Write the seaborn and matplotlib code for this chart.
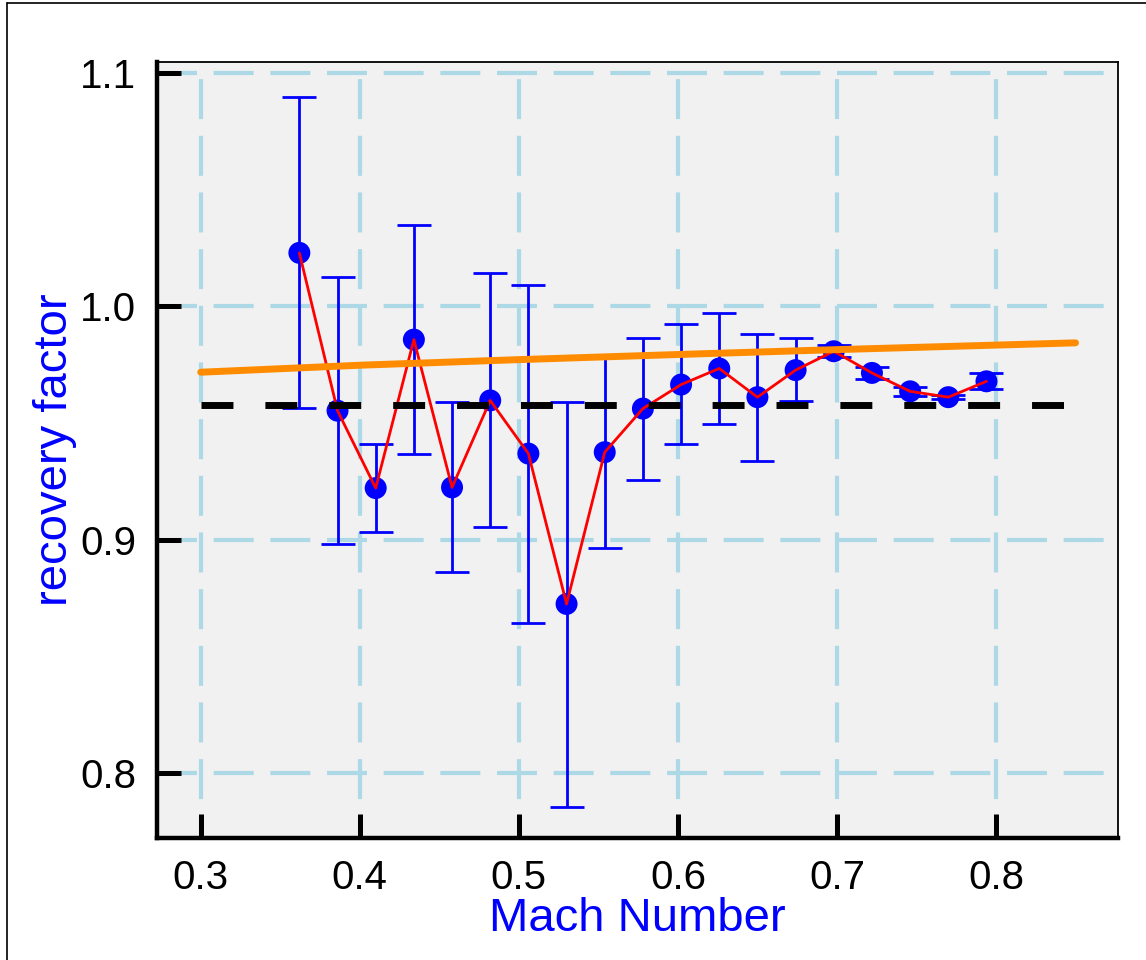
import matplotlib
matplotlib.use("Agg")
import matplotlib.pyplot as plt
import seaborn as sns
import pandas as pd
from matplotlib.lines import Line2D

# ---- data ----
mach = [0.362, 0.386, 0.410, 0.434, 0.458, 0.482, 0.506, 0.530, 0.554, 0.578,
        0.602, 0.626, 0.650, 0.674, 0.698, 0.722, 0.746, 0.770, 0.794]
recovery = [1.0230, 0.9553, 0.9221, 0.9858, 0.9224, 0.9597, 0.9369, 0.8724, 0.9375, 0.9562,
            0.9665, 0.9734, 0.9611, 0.9727, 0.9808, 0.9715, 0.9636, 0.9611, 0.9679]
upper = [1.0898, 1.0126, 0.9412, 1.0350, 0.9591, 1.0142, 1.0094, 0.9592, 0.9786, 0.9863,
         0.9923, 0.9971, 0.9881, 0.9865, 0.9834, 0.9742, 0.9654, 0.9622, 0.9714]
lower = [0.9565, 0.8981, 0.9034, 0.9367, 0.8863, 0.9053, 0.8642, 0.7854, 0.8964, 0.9256,
         0.9408, 0.9498, 0.9339, 0.9594, 0.9782, 0.9689, 0.9618, 0.9602, 0.9646]

theory_mach = [0.30, 0.40, 0.50, 0.60, 0.70, 0.85]
theory_r = [0.9718, 0.9748, 0.9772, 0.9794, 0.9815, 0.9844]

mean_mach = [0.30, 0.85]
mean_r = [0.9577, 0.9577]

xticks = [0.3, 0.4, 0.5, 0.6, 0.7, 0.8]
xticklabels = ["0.3", "0.4", "0.5", "0.6", "0.7", "0.8"]
yticks = [0.8, 0.9, 1.0, 1.1]
yticklabels = ["0.8", "0.9", "1.0", "1.1"]

df = pd.DataFrame({"mach": mach, "r": recovery, "lo": lower, "hi": upper})
df_th = pd.DataFrame({"mach": theory_mach, "r": theory_r})
df_mean = pd.DataFrame({"mach": mean_mach, "r": mean_r})

sns.set_theme(style="white")
plt.rcParams["font.family"] = ["Liberation Sans", "DejaVu Sans"]

W, H = 1146, 960
fig = plt.figure(figsize=(W / 100, H / 100), dpi=100)
ax = fig.add_axes([157 / W, 1 - 838 / H, (1118 - 157) / W, (838 - 61.7) / H])
ax.set_facecolor("#f1f1f1")

# error bars
ax.errorbar(df["mach"], df["r"],
            yerr=[df["r"] - df["lo"], df["hi"] - df["r"]],
            fmt="none", ecolor="blue", elinewidth=2, capsize=12, capthick=2, zorder=2)
# points
sns.scatterplot(data=df, x="mach", y="r", color="blue", s=250, edgecolor="none",
                linewidth=0, ax=ax, zorder=2.5, legend=False)
# connecting red line
sns.lineplot(data=df, x="mach", y="r", color="red", lw=2, sort=False,
             estimator=None, ax=ax, zorder=3, legend=False)
# orange theory curve
sns.lineplot(data=df_th, x="mach", y="r", color="#ff8c00", lw=5, sort=False,
             estimator=None, ax=ax, zorder=4, legend=False)
# black dashed mean line
sns.lineplot(data=df_mean, x="mach", y="r", color="black", lw=5, sort=False,
             estimator=None, ax=ax, zorder=5, legend=False)
ax.lines[-1].set_linestyle((0, (4.6, 4.6)))
ax.lines[-1].set_dash_capstyle("butt")

ax.set_xlim(0.2725, 0.8767)
ax.set_ylim(0.772, 1.105)
ax.set_xticks(xticks)
ax.set_xticklabels(xticklabels)
ax.set_yticks(yticks)
ax.set_yticklabels(yticklabels)

ax.set_axisbelow(True)
ax.xaxis.grid(True, color="#add8e6", lw=3, linestyle=(4.27, (9.6, 4)))
ax.yaxis.grid(True, color="#add8e6", lw=3, linestyle=(0, (9.6, 4)))

for side in ["left", "bottom"]:
    ax.spines[side].set_linewidth(3.2)
    ax.spines[side].set_color("black")
for side in ["top", "right"]:
    ax.spines[side].set_linewidth(1.3)
    ax.spines[side].set_color("black")

ax.tick_params(axis="both", which="major", direction="in", length=17, width=3.6,
               color="black", labelsize=29, pad=15, labelcolor="black",
               top=False, right=False, left=True, bottom=True)

ax.set_xlabel("Mach Number", color="blue", fontsize=34, labelpad=0)
ax.set_ylabel("recovery factor", color="blue", fontsize=34, labelpad=2)

# figure frame (left and top edges visible)
fig.add_artist(Line2D([6.5 / W, 6.5 / W], [0, 1 - 3.3 / H], transform=fig.transFigure,
                      color="black", lw=1.2))
fig.add_artist(Line2D([6.5 / W, 1], [1 - 3.3 / H, 1 - 3.3 / H], transform=fig.transFigure,
                      color="black", lw=1.2))

fig.savefig("out.png", dpi=100)
